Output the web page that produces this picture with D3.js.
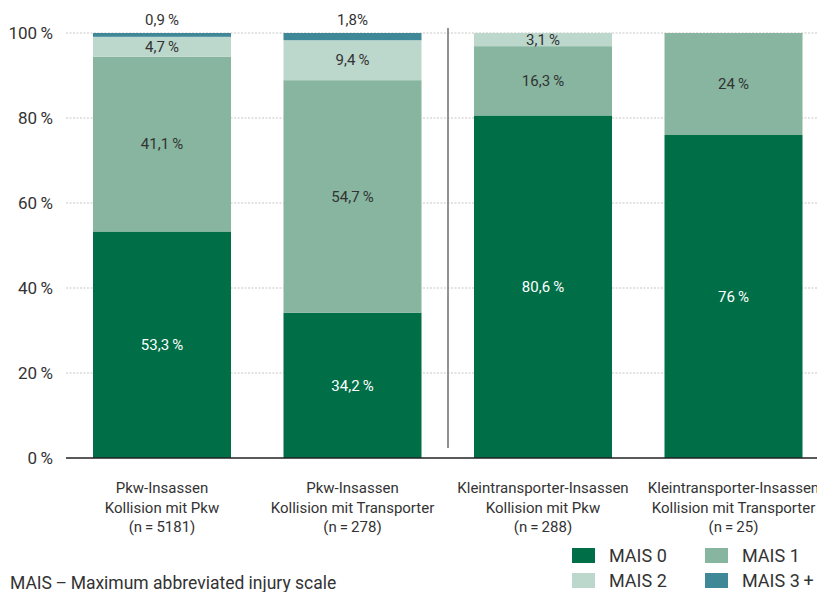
<!DOCTYPE html>
<html><head><meta charset="utf-8">
<script src="https://cdn.jsdelivr.net/npm/d3@7"></script>
<style>
body{margin:0;background:#fff;}
svg{font-family:Roboto,"Liberation Sans",sans-serif;}
</style></head>
<body><svg id="c" width="817" height="592"></svg>
<script>
const categories = [
  ["Pkw-Insassen","Kollision mit Pkw","(n\u2009=\u20095181)"],
  ["Pkw-Insassen","Kollision mit Transporter","(n\u2009=\u2009278)"],
  ["Kleintransporter-Insassen","Kollision mit Pkw","(n\u2009=\u2009288)"],
  ["Kleintransporter-Insassen","Kollision mit Transporter","(n\u2009=\u200925)"]
];
const seriesNames = ["MAIS 0","MAIS 1","MAIS 2","MAIS 3\u2009+"];
const mais0 = [53.3, 34.2, 80.6, 76];
const mais1 = [41.1, 54.7, 16.3, 24];
const mais2 = [4.7, 9.4, 3.1, 0];
const mais3 = [0.9, 1.8, 0, 0];
const valueLabels = [
  ["53,3\u2009%","41,1\u2009%","4,7\u2009%","0,9\u2009%"],
  ["34,2\u2009%","54,7\u2009%","9,4\u2009%","1,8%"],
  ["80,6\u2009%","16,3\u2009%","3,1\u2009%",""],
  ["76\u2009%","24\u2009%","",""]
];
const yTicks = [0,20,40,60,80,100];
const colors = ["#006f47","#87b5a0","#bcd7cc","#3e8898"];

const svg = d3.select("#c");
const series = [mais0, mais1, mais2, mais3];
const x = d3.scaleBand().domain(d3.range(categories.length)).range([66, 829.5]).paddingInner(0.2756).paddingOuter(0.1417);
const y = d3.scaleLinear().domain([0,100]).range([458,33]);

// grid
svg.append("g").selectAll("line").data(yTicks.filter(d=>d>0)).join("line")
  .attr("x1",66).attr("x2",817).attr("y1",d=>y(d)).attr("y2",d=>y(d))
  .attr("stroke","#c8c8c8").attr("stroke-width",1.2).attr("stroke-dasharray","2,1.5");

// stacked bars
const rows = categories.map((c,i)=>{
  let acc=0;
  return series.map((s,k)=>{const v0=acc; acc+=s[i]; return {i,k,v0,v1:acc,v:s[i]};});
});
const g = svg.append("g");
rows.forEach(r=>r.forEach(d=>{
  if(d.v<=0) return;
  const top = Math.max(y(Math.min(d.v1,100)), y(100));
  g.append("rect").attr("x",x(d.i)).attr("width",x.bandwidth())
    .attr("y",top).attr("height",y(d.v0)-top).attr("fill",colors[d.k]);
}));

// value labels
rows.forEach(r=>r.forEach(d=>{
  const t = valueLabels[d.i][d.k];
  if(!t) return;
  let cy;
  if(d.k===3) cy = y(100)-13;
  else { const top=Math.max(y(Math.min(d.v1,100)),y(100)); cy=(top+y(d.v0))/2; }
  svg.append("text").attr("x",x(d.i)+x.bandwidth()/2).attr("y",cy).attr("dy","0.35em")
    .attr("text-anchor","middle").attr("font-size",15)
    .attr("fill",d.k===0?"#ffffff":"#333333").text(t);
}));

// baseline
svg.append("line").attr("x1",66).attr("x2",817).attr("y1",y(0)).attr("y2",y(0))
  .attr("stroke","#222").attr("stroke-width",1.6);

// separator
svg.append("line").attr("x1",448).attr("x2",448).attr("y1",28).attr("y2",448)
  .attr("stroke","#777").attr("stroke-width",1.6);

// y axis labels
svg.append("g").selectAll("text").data(yTicks).join("text")
  .attr("x",53).attr("y",d=>y(d)).attr("dy","0.35em").attr("text-anchor","end")
  .attr("font-size",17).attr("fill","#333").text(d=>d+"\u2009%");

// category labels
categories.forEach((c,i)=>{
  const t = svg.append("text").attr("text-anchor","middle").attr("font-size",15).attr("fill","#333");
  c.forEach((line,j)=>t.append("tspan").attr("x",x(i)+x.bandwidth()/2).attr("y",493+j*19.5).text(line));
});

// legend
const leg = [[572,548],[705,548],[572,573],[705,573]];
seriesNames.forEach((n,k)=>{
  svg.append("rect").attr("x",leg[k][0]).attr("y",leg[k][1]).attr("width",23).attr("height",15).attr("fill",colors[k]);
  svg.append("text").attr("x",leg[k][0]+37).attr("y",leg[k][1]+7.5).attr("dy","0.35em")
    .attr("font-size",18).attr("fill","#333").text(n);
});

// footnote
svg.append("text").attr("x",10).attr("y",589).attr("font-size",17.5).attr("fill","#333")
  .text("MAIS\u2009\u2013\u2009Maximum abbreviated injury scale");
</script></body></html>
